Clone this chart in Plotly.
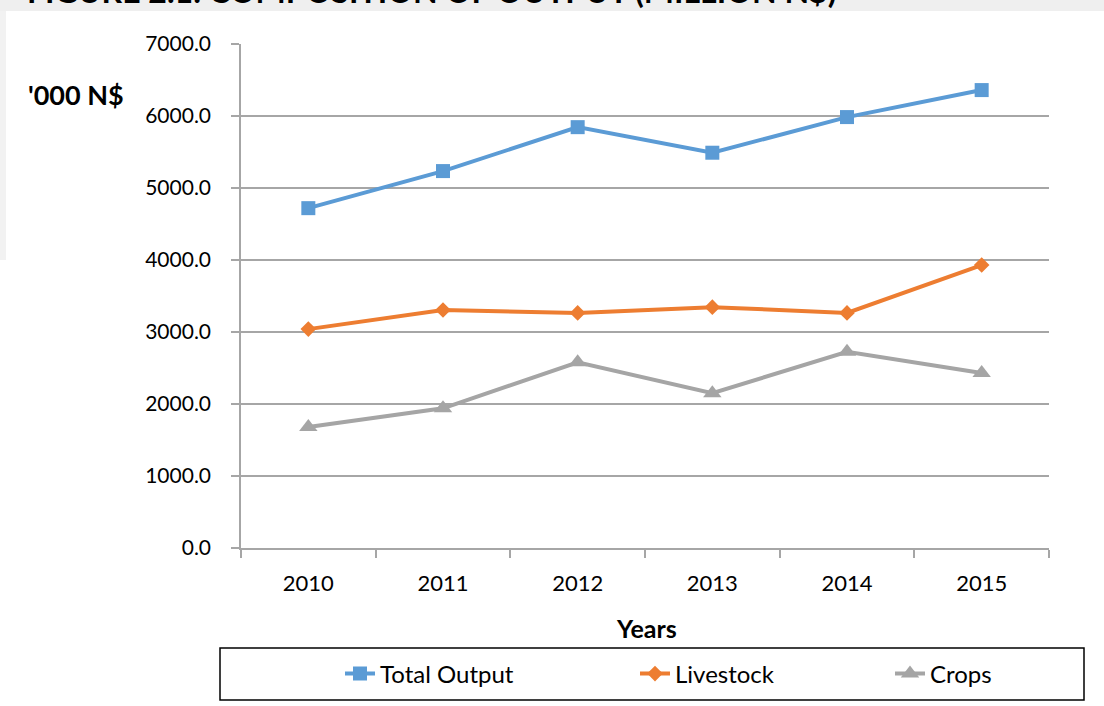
import plotly.graph_objects as go

# ---- data ----
years = ["2010", "2011", "2012", "2013", "2014", "2015"]
total_output = [4720, 5235, 5845, 5490, 5985, 6360]
livestock = [3040, 3305, 3265, 3345, 3265, 3930]
crops = [1680, 1940, 2580, 2150, 2725, 2430]
y_ticks = [0, 1000, 2000, 3000, 4000, 5000, 6000, 7000]

W, H = 1104, 706
L, R, T, B = 241, 1049, 44, 548


def px_x(px):
    return (px - L) / (R - L)


def px_y(py):
    return (B - py) / (B - T)


FONT = "Lato"
GRID = "#a6a6a6"

fig = go.Figure()
series = [
    ("Total Output", total_output, "#5B9BD5", "square", 14, "legend"),
    ("Livestock", livestock, "#ED7D31", "diamond", 12, "legend2"),
    ("Crops", crops, "#A5A5A5", "triangle-up", 16, "legend3"),
]
for name, vals, col, sym, size, lg in series:
    fig.add_trace(go.Scatter(
        x=years, y=vals, name=name, mode="lines+markers",
        line=dict(color=col, width=4),
        marker=dict(symbol=sym, size=size, color=col),
        legend=lg,
    ))

text_starts = [380, 675, 930]
leg_common = dict(
    orientation="h", xref="container", yref="container",
    xanchor="left", yanchor="middle",
    font=dict(family=FONT, size=24, color="#000000"),
    bgcolor="rgba(0,0,0,0)", borderwidth=0,
)
fig.update_layout(
    legend=dict(x=(text_starts[0] - 40) / W, y=1 - 674 / H, **leg_common),
    legend2=dict(x=(text_starts[1] - 40) / W, y=1 - 674 / H, **leg_common),
    legend3=dict(x=(text_starts[2] - 40) / W, y=1 - 674 / H, **leg_common),
)

fig.update_layout(
    width=W, height=H,
    margin=dict(l=L, r=W - R, t=T, b=H - B, autoexpand=False),
    paper_bgcolor="#ffffff", plot_bgcolor="#ffffff",
    font=dict(family=FONT, size=22, color="#000000"),
    xaxis=dict(
        type="category", range=[-0.5, 5.5], tickson="boundaries",
        showgrid=False, showline=True, linecolor=GRID, linewidth=1.5,
        ticks="outside", ticklen=8, tickcolor=GRID, tickwidth=1.5,
        ticklabelstandoff=15,
        tickfont=dict(family=FONT, size=22, color="#000000"),
    ),
    yaxis=dict(
        range=[0, 7000], tickvals=y_ticks, tickformat=".1f",
        showgrid=True, gridcolor=GRID, gridwidth=1.5, zeroline=False,
        showline=True, linecolor=GRID, linewidth=1.5,
        ticks="outside", ticklen=8, tickcolor=GRID, tickwidth=1.5,
        ticklabelstandoff=16,
        tickfont=dict(family=FONT, size=21, color="#000000"),
    ),
    showlegend=True,
)

# background band and legend box
fig.add_shape(type="rect", xref="paper", yref="paper", layer="below",
              x0=px_x(0), x1=px_x(W), y0=px_y(11), y1=px_y(-2),
              fillcolor="#efefef", line=dict(width=0))
fig.add_shape(type="rect", xref="paper", yref="paper", layer="below",
              x0=px_x(0), x1=px_x(6), y0=px_y(260), y1=px_y(11),
              fillcolor="#f2f2f2", line=dict(width=0))
fig.add_shape(type="rect", xref="paper", yref="paper",
              x0=px_x(220), x1=px_x(1084), y0=px_y(700), y1=px_y(648),
              fillcolor="rgba(0,0,0,0)", line=dict(color="#000000", width=1.5))

# texts
fig.add_annotation(text="<b>FIGURE 2.1: COMPOSITION OF OUTPUT (MILLION N$)</b>",
                   xref="paper", yref="paper", x=px_x(25), y=px_y(12),
                   xanchor="left", yanchor="bottom", showarrow=False,
                   font=dict(family=FONT, size=32, color="#000000"))
fig.add_annotation(text="<b>'000 N$</b>", xref="paper", yref="paper",
                   x=px_x(26), y=px_y(94), xanchor="left", yanchor="middle",
                   showarrow=False, font=dict(family=FONT, size=27, color="#000000"))
fig.add_annotation(text="<b>Years</b>", xref="paper", yref="paper",
                   x=px_x(646), y=px_y(628), xanchor="center", yanchor="middle",
                   showarrow=False, font=dict(family=FONT, size=25, color="#000000"))

fig.write_html("out.html", config={"displayModeBar": False},
               post_script="document.body.style.margin='0';document.body.style.overflow='hidden';")
